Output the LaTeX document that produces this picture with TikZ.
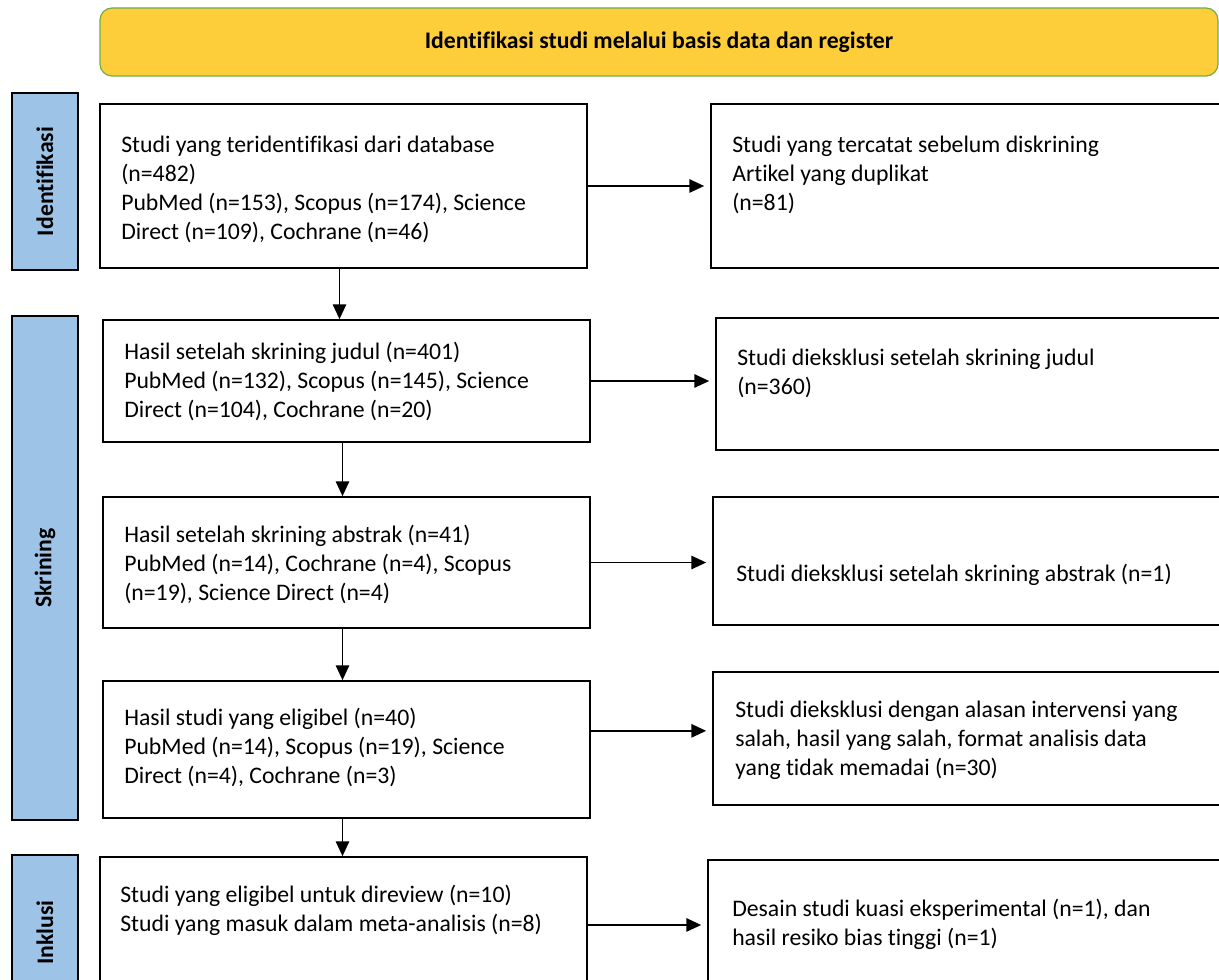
\documentclass[tikz,border=0pt]{standalone}
\usepackage{fontspec}
\setmainfont{Carlito}[Ligatures={NoCommon,NoContextual}, Contextuals={NoAlternate}]
\usetikzlibrary{positioning}
\usetikzlibrary{calc}
\usetikzlibrary{fit}
\usetikzlibrary{arrows.meta}
\definecolor{banner colour}{RGB}{254,205,58}
\definecolor{banner edge}{RGB}{112,173,71}
\definecolor{stage colour}{RGB}{157,195,230}
\tikzset{
    % Arrows are short filled triangles
    >={Triangle[length=11pt, width=10pt]},
%
    % Lines and fills
    flow/.style={draw, line width=1.1pt, ->},
    side flow/.style={flow, shorten >=4.5pt},
%
    % Boxes are fitted over their corners
    box/.style={draw, rectangle, line width=1.3pt, inner sep=0pt, fit={#1}},
    stage/.style={
        draw, rectangle, line width=1.3pt, inner sep=0pt,
        fill=stage colour, fit={#1}},
    banner/.style={
        draw=banner edge, rectangle, rounded corners=9pt, line width=0.9pt,
        inner sep=0pt, fill=banner colour, fit={#1}},
%
    % Texts
    every node/.style={align=left},
    body/.style={
        anchor=north west, inner sep=0pt,
        font=\fontsize{17.8pt}{21.75pt}\selectfont},
    heading/.style={
        inner sep=0pt, font=\fontsize{17.8pt}{21.75pt}\selectfont\bfseries},
}

\begin{document}
\begin{tikzpicture}[
    x=0.75pt, y=-0.75pt]

\useasboundingbox (0,0) rectangle (1219,980);
\clip (0,0) rectangle (1219,980);

% Heading and stages
\node [banner={(100,8) (1218,76)}] (top) {};
\node [heading] at (top.center) {Identifikasi studi melalui basis data dan register};

\node [stage={(12,93) (78,270)}] (stage ident) {};
\node [stage={(12,316) (78,820)}] (stage screen) {};
\node [stage={(12,855) (78,1010)}] (stage incl) {};
\node [heading, rotate=90] at (stage ident.center) {Identifikasi};
\node [heading, rotate=90] at (stage screen.center) {Skrining};
\node [heading, rotate=90] at (stage incl.center) {Inklusi};

% Main column
\node [box={(100,104) (587,268)}] (found) {};
\node [box={(103,320) (590,442)}] (title) {};
\node [box={(103,497) (590,628)}] (abstract) {};
\node [box={(103,681) (590,818)}] (eligible) {};
\node [box={(100,857) (587,1010)}] (included) {};

% Excluded column
\node [box={(711,104) (1240,268)}] (dupes) {};
\node [box={(716,318) (1240,450)}] (out title) {};
\node [box={(713,497) (1240,625)}] (out abstract) {};
\node [box={(713,672) (1240,805)}] (out eligible) {};
\node [box={(708,860) (1240,1010)}] (out included) {};

% Texts
\path
    (121,132) node [body] (found text) {\strut Studi yang teridentifikasi dari database\\(n=482)\\
        PubMed (n=153), Scopus (n=174), Science\\Direct (n=109), Cochrane (n=46)}
    (124,339) node [body] (title text) {\strut Hasil setelah skrining judul (n=401)\\
        PubMed (n=132), Scopus (n=145), Science\\Direct (n=104), Cochrane (n=20)}
    (124,522) node [body] (abstract text) {\strut Hasil setelah skrining abstrak (n=41)\\
        PubMed (n=14), Cochrane (n=4), Scopus\\(n=19), Science Direct (n=4)}
    (124,705) node [body] (eligible text) {\strut Hasil studi yang eligibel (n=40)\\
        PubMed (n=14), Scopus (n=19), Science\\Direct (n=4), Cochrane (n=3)}
    (120,882) node [body] (included text) {\strut Studi yang eligibel untuk direview (n=10)\\
        Studi yang masuk dalam meta-analisis (n=8)}
    (732,132) node [body] (dupes text) {\strut Studi yang tercatat sebelum diskrining\\
        Artikel yang duplikat\\(n=81)}
    (737,345) node [body] (out title text) {\strut Studi dieksklusi setelah skrining judul\\(n=360)}
    (736,561) node [body] (out abstract text) {\strut Studi dieksklusi setelah skrining abstrak (n=1)}
    (735,697) node [body] (out eligible text) {\strut Studi dieksklusi dengan alasan intervensi yang\\
        salah, hasil yang salah, format analisis data\\yang tidak memadai (n=30)}
    (732,896) node [body] (out included text) {\strut Desain studi kuasi eksperimental (n=1), dan\\
        hasil resiko bias tinggi (n=1)};

% Downward flow
\draw [flow] ([xshift=-3pt]found.south) -- ([xshift=-3pt]found.south |- title.north);
\draw [flow] ([xshift=-3pt]title.south) -- ([xshift=-3pt]title.south |- abstract.north);
\draw [flow] ([xshift=-3pt]abstract.south) -- ([xshift=-3pt]abstract.south |- eligible.north);
\draw [flow] ([xshift=-3pt]eligible.south) -- ([xshift=-3pt]eligible.south |- included.north);

% Sideways flow
\draw [side flow] (found.east) -- (found.east -| dupes.west);
\draw [side flow] (title.east) -- (title.east -| out title.west);
\draw [side flow] (abstract.east) -- (abstract.east -| out abstract.west);
\draw [side flow] ([yshift=14pt]eligible.east) -- ([yshift=14pt]eligible.east -| out eligible.west);
\draw [side flow] ([yshift=6.4pt]included.east) -- ([yshift=6.4pt]included.east -| out included.west);

\end{tikzpicture}
\end{document}
